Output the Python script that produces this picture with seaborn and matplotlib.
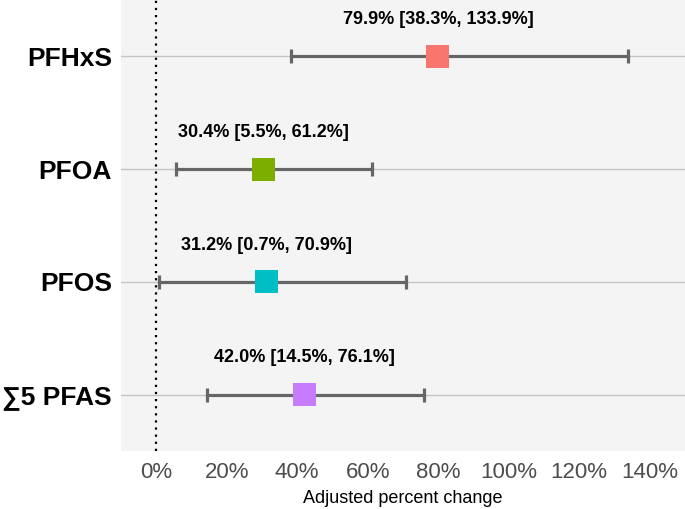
import seaborn as sns
import matplotlib.pyplot as plt
import pandas as pd

# values (top to bottom)
exposures = ['PFHxS', 'PFOA', 'PFOS', '\u22115 PFAS']
estimate = [79.9, 30.4, 31.2, 42.0]
ci_low = [38.3, 5.5, 0.7, 14.5]
ci_high = [133.9, 61.2, 70.9, 76.1]
colors = ['#F8766D', '#7CAE00', '#00BFC4', '#C77CFF']
xticks = [0, 20, 40, 60, 80, 100, 120, 140]

df = pd.DataFrame({'exposure': exposures, 'est': estimate,
                   'lo': ci_low, 'hi': ci_high})

sns.set_style('white')
plt.rcParams['font.family'] = ['Liberation Sans', 'DejaVu Sans']

fig = plt.figure(figsize=(6.85, 5.09), dpi=100)
ax = fig.add_axes([0.1766, 0.114, 0.8234, 0.886])
ax.set_facecolor('#F4F4F4')

# reference line at zero
ax.axvline(0, color='black', linestyle=(0, (1, 2.2)), linewidth=1.6, zorder=1)

# confidence intervals
ax.errorbar(df['est'], df['exposure'],
            xerr=[df['est'] - df['lo'], df['hi'] - df['est']],
            fmt='none', ecolor='#666666', elinewidth=2.3,
            capsize=4.7, capthick=2.3, zorder=2)

# point estimates
sns.scatterplot(data=df, x='est', y='exposure', hue='exposure',
                palette=colors, marker='s', s=275, linewidth=0,
                legend=False, zorder=3, ax=ax)

for _, r in df.iterrows():
    ax.annotate(f"{r['est']:.1f}% [{r['lo']:.1f}%, {r['hi']:.1f}%]",
                xy=(r['est'], r['exposure']), xytext=(0, 26.5),
                textcoords='offset points', ha='center', va='center',
                fontsize=13, fontweight='bold', color='black')

ax.set_xlim(-10, 150)
ax.set_ylim(3.5, -0.5)
ax.set_xticks(xticks)
ax.set_xticklabels([f'{t}%' for t in xticks])

ax.grid(axis='y', color='#C4C4C4', linewidth=1.0)
ax.grid(axis='x', visible=False)
ax.set_axisbelow(True)
for s in ax.spines.values():
    s.set_visible(False)

ax.tick_params(axis='y', length=4, width=1, color='#333333',
               labelsize=19, labelcolor='black', pad=2.5)
ax.tick_params(axis='x', length=4, width=1, color='#333333',
               labelsize=16, labelcolor='#4D4D4D', pad=4)
for lbl in ax.get_yticklabels():
    lbl.set_fontweight('bold')

ax.set_ylabel('')
ax.set_xlabel('Adjusted percent change', fontsize=13, color='black', labelpad=5)

fig.savefig('out.png', dpi=100)
plt.close(fig)
